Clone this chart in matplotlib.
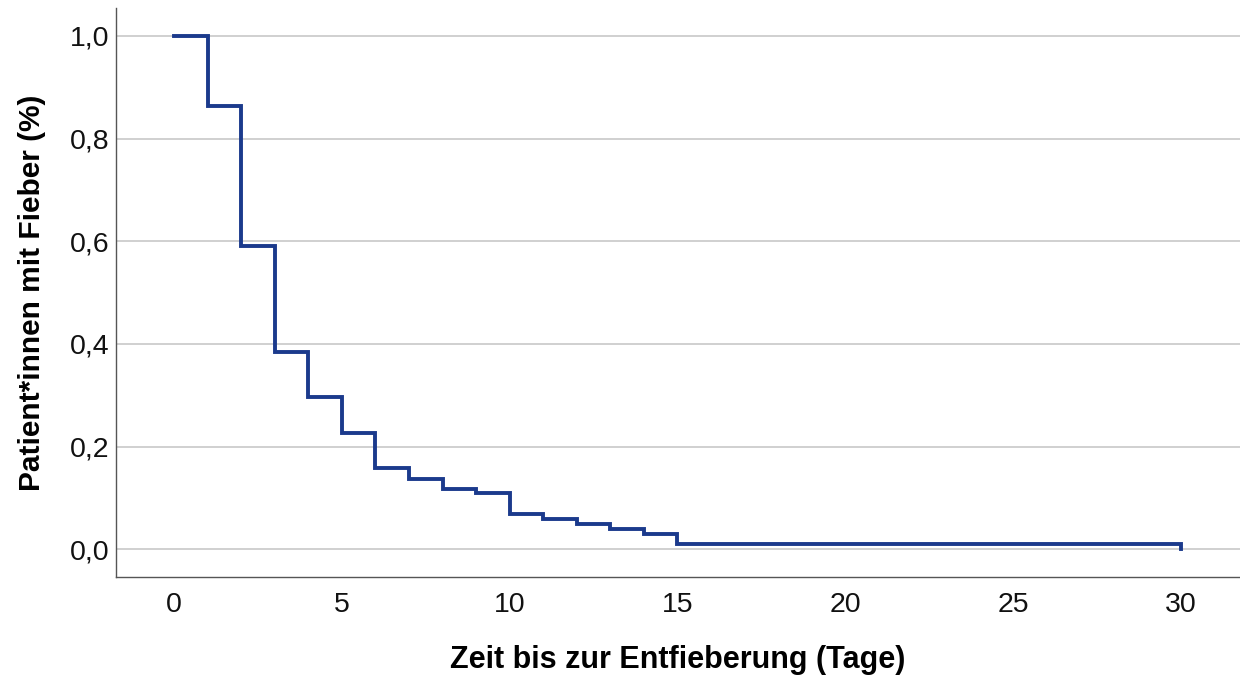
import numpy as np
import matplotlib.pyplot as plt

# Kaplan-Meier estimate: proportion of patients still febrile per day
tage = [0, 1, 2, 3, 4, 5, 6, 7, 8, 9, 10, 11, 12, 13, 14, 15, 30]
anteil = [1.0, 0.864, 0.591, 0.385, 0.296, 0.226, 0.158, 0.138, 0.117,
          0.109, 0.068, 0.059, 0.049, 0.039, 0.029, 0.0097, 0.0]

x_ticks = [0, 5, 10, 15, 20, 25, 30]
y_ticks = [0.0, 0.2, 0.4, 0.6, 0.8, 1.0]

plt.rcParams['font.family'] = ['Liberation Sans', 'DejaVu Sans']

fig = plt.figure(figsize=(12.4, 6.75), dpi=100)
ax = fig.add_axes([0.0935, 0.145, 0.9065, 0.843])

ax.step(tage, anteil, where='post', color='#1b3a8c', lw=2.8, solid_joinstyle='miter')

ax.set_xlim(-1.73, 31.76)
ax.set_ylim(-0.054, 1.054)
ax.set_xticks(x_ticks)
ax.set_yticks(y_ticks)
ax.set_yticklabels([f'{v:.1f}'.replace('.', ',') for v in y_ticks])
ax.tick_params(length=0, labelsize=20.5, colors='#111111')
ax.tick_params(axis='x', pad=11)
ax.tick_params(axis='y', pad=4.5)

ax.yaxis.grid(True, color='#c8c8c8', lw=1.2)
ax.set_axisbelow(True)
for s in ['top', 'right']:
    ax.spines[s].set_visible(False)
for s in ['left', 'bottom']:
    ax.spines[s].set_color('#555555')
    ax.spines[s].set_linewidth(1.0)

ax.set_xlabel('Zeit bis zur Entfieberung (Tage)', fontsize=22, fontweight='bold', labelpad=19)
ax.set_ylabel('Patient*innen mit Fieber (%)', fontsize=21.5, fontweight='bold', labelpad=17)

fig.savefig('out.png', dpi=100)
